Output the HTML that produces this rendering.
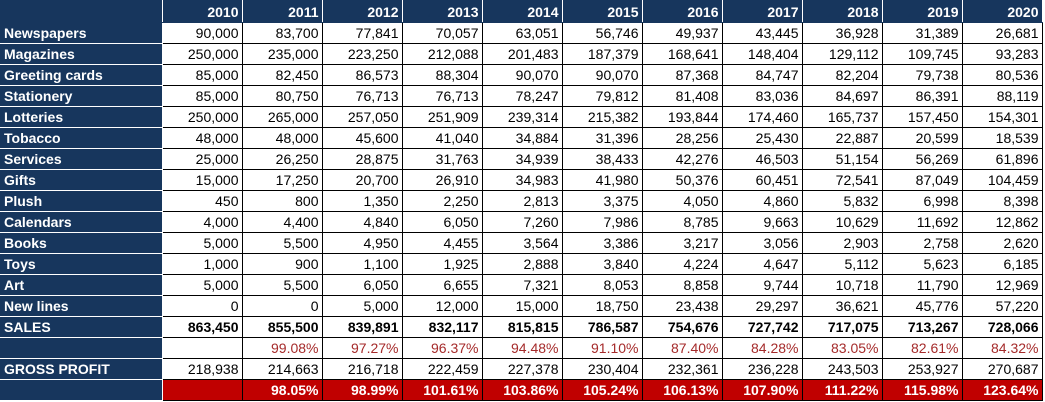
<!DOCTYPE html>
<html><head><style>
body{margin:0;background:#fff;}
table{border-collapse:collapse;font-family:"Liberation Sans",Arial,sans-serif;font-size:14px;table-layout:fixed;position:absolute;left:0;top:0;}
td{height:20px;padding:0 3px 0 0;text-align:right;border:1px solid #000;white-space:nowrap;overflow:hidden;color:#000;}
td.l{background:#17365d;color:#fff;font-weight:bold;text-align:left;padding-left:4px;border:1px solid #fff;border-left:none;}
tr.h td{background:#17365d;color:#fff;font-weight:bold;border-color:#17365d;border-right:1px solid #fff;height:21px;}
tr.b td{font-weight:bold;}
tr.p td{color:#a52a2a;}
tr.r td{background:#c00000;color:#fff;font-weight:bold;}
tr.r td.l{background:#17365d;}
</style></head><body>
<table>
<colgroup><col style="width:162px"><col span="11" style="width:80px"></colgroup>
<tr class="h"><td class="l"></td><td>2010</td><td>2011</td><td>2012</td><td>2013</td><td>2014</td><td>2015</td><td>2016</td><td>2017</td><td>2018</td><td>2019</td><td>2020</td></tr>
<tr><td class="l">Newspapers</td><td>90,000</td><td>83,700</td><td>77,841</td><td>70,057</td><td>63,051</td><td>56,746</td><td>49,937</td><td>43,445</td><td>36,928</td><td>31,389</td><td>26,681</td></tr>
<tr><td class="l">Magazines</td><td>250,000</td><td>235,000</td><td>223,250</td><td>212,088</td><td>201,483</td><td>187,379</td><td>168,641</td><td>148,404</td><td>129,112</td><td>109,745</td><td>93,283</td></tr>
<tr><td class="l">Greeting cards</td><td>85,000</td><td>82,450</td><td>86,573</td><td>88,304</td><td>90,070</td><td>90,070</td><td>87,368</td><td>84,747</td><td>82,204</td><td>79,738</td><td>80,536</td></tr>
<tr><td class="l">Stationery</td><td>85,000</td><td>80,750</td><td>76,713</td><td>76,713</td><td>78,247</td><td>79,812</td><td>81,408</td><td>83,036</td><td>84,697</td><td>86,391</td><td>88,119</td></tr>
<tr><td class="l">Lotteries</td><td>250,000</td><td>265,000</td><td>257,050</td><td>251,909</td><td>239,314</td><td>215,382</td><td>193,844</td><td>174,460</td><td>165,737</td><td>157,450</td><td>154,301</td></tr>
<tr><td class="l">Tobacco</td><td>48,000</td><td>48,000</td><td>45,600</td><td>41,040</td><td>34,884</td><td>31,396</td><td>28,256</td><td>25,430</td><td>22,887</td><td>20,599</td><td>18,539</td></tr>
<tr><td class="l">Services</td><td>25,000</td><td>26,250</td><td>28,875</td><td>31,763</td><td>34,939</td><td>38,433</td><td>42,276</td><td>46,503</td><td>51,154</td><td>56,269</td><td>61,896</td></tr>
<tr><td class="l">Gifts</td><td>15,000</td><td>17,250</td><td>20,700</td><td>26,910</td><td>34,983</td><td>41,980</td><td>50,376</td><td>60,451</td><td>72,541</td><td>87,049</td><td>104,459</td></tr>
<tr><td class="l">Plush</td><td>450</td><td>800</td><td>1,350</td><td>2,250</td><td>2,813</td><td>3,375</td><td>4,050</td><td>4,860</td><td>5,832</td><td>6,998</td><td>8,398</td></tr>
<tr><td class="l">Calendars</td><td>4,000</td><td>4,400</td><td>4,840</td><td>6,050</td><td>7,260</td><td>7,986</td><td>8,785</td><td>9,663</td><td>10,629</td><td>11,692</td><td>12,862</td></tr>
<tr><td class="l">Books</td><td>5,000</td><td>5,500</td><td>4,950</td><td>4,455</td><td>3,564</td><td>3,386</td><td>3,217</td><td>3,056</td><td>2,903</td><td>2,758</td><td>2,620</td></tr>
<tr><td class="l">Toys</td><td>1,000</td><td>900</td><td>1,100</td><td>1,925</td><td>2,888</td><td>3,840</td><td>4,224</td><td>4,647</td><td>5,112</td><td>5,623</td><td>6,185</td></tr>
<tr><td class="l">Art</td><td>5,000</td><td>5,500</td><td>6,050</td><td>6,655</td><td>7,321</td><td>8,053</td><td>8,858</td><td>9,744</td><td>10,718</td><td>11,790</td><td>12,969</td></tr>
<tr><td class="l">New lines</td><td>0</td><td>0</td><td>5,000</td><td>12,000</td><td>15,000</td><td>18,750</td><td>23,438</td><td>29,297</td><td>36,621</td><td>45,776</td><td>57,220</td></tr>
<tr class="b"><td class="l">SALES</td><td>863,450</td><td>855,500</td><td>839,891</td><td>832,117</td><td>815,815</td><td>786,587</td><td>754,676</td><td>727,742</td><td>717,075</td><td>713,267</td><td>728,066</td></tr>
<tr class="p"><td class="l"></td><td></td><td>99.08%</td><td>97.27%</td><td>96.37%</td><td>94.48%</td><td>91.10%</td><td>87.40%</td><td>84.28%</td><td>83.05%</td><td>82.61%</td><td>84.32%</td></tr>
<tr><td class="l">GROSS PROFIT</td><td>218,938</td><td>214,663</td><td>216,718</td><td>222,459</td><td>227,378</td><td>230,404</td><td>232,361</td><td>236,228</td><td>243,503</td><td>253,927</td><td>270,687</td></tr>
<tr class="r"><td class="l"></td><td></td><td>98.05%</td><td>98.99%</td><td>101.61%</td><td>103.86%</td><td>105.24%</td><td>106.13%</td><td>107.90%</td><td>111.22%</td><td>115.98%</td><td>123.64%</td></tr>
</table>
</body></html>
